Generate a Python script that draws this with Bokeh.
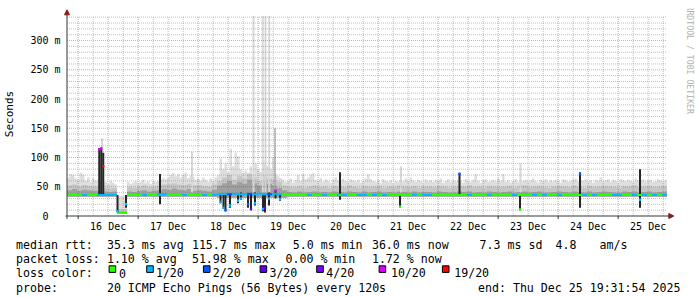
import numpy as np
from datetime import datetime, timedelta
from bokeh.plotting import figure
from bokeh.layouts import column
from bokeh.models import Range1d, FixedTicker, Arrow, NormalHead, Label, Plot
from bokeh.core.properties import value
from bokeh.embed import file_html
from bokeh.resources import INLINE

MONO = "DejaVu Sans Mono"

# ---------------- time frame ----------------
END = datetime(2025, 12, 25, 19, 31, 54)
SPAN_H = 240
START = END - timedelta(hours=SPAN_H)
FIRST_MIDNIGHT = datetime(2025, 12, 16)
OFFSET = (START - FIRST_MIDNIGHT).total_seconds() / 3600.0  # hours of START relative to 16 Dec 00:00

day_labels = ["16 Dec", "17 Dec", "18 Dec", "19 Dec", "20 Dec",
              "21 Dec", "22 Dec", "23 Dec", "24 Dec", "25 Dec"]
y_ticks = [0, 50, 100, 150, 200, 250, 300]
y_tick_labels = ["0\u00a0\u00a0", "50 m", "100 m", "150 m", "200 m", "250 m", "300 m"]
Y_TOP = 342  # ms at top of graph area

# ---------------- smoke data (ms) ----------------
# highest ping per hour (240 hours from START)
hi_1h = [
    66, 72, 70, 64, 62, 74, 71, 60, 66, 58, 64, 60,
    62, 58, 56, 58, 55, 60, 57, 54,
    34, 34, 34, 34,
    58, 55, 57, 60, 56, 58, 62, 57, 59, 55, 60, 58,
    60, 62, 65, 63, 66, 70, 74, 68, 72, 66, 70, 74, 65, 69,
    67, 62, 64, 60, 66, 62, 58, 64, 60, 66,
    70, 98, 80, 90, 75, 115, 85, 108, 102, 80, 74, 78, 74, 85, 72, 90, 80, 75, 95, 88, 85, 80, 100, 72, 68, 65,
    62, 58, 60, 64, 57, 62, 70, 60, 72, 63, 66, 71,
    73, 62, 60, 65, 58, 63, 60, 57, 62, 66, 61, 58,
    64, 60, 58, 63, 61, 59, 62, 57, 60, 64, 72, 63,
    60, 58, 62, 57, 63, 60, 58, 61, 56, 60, 58, 62,
    59, 64, 60, 66, 61, 58, 62, 60, 57, 63, 59, 61,
    58, 62, 60, 64, 57, 60, 63, 58, 61, 59, 62, 60,
    57, 63, 60, 58, 62, 72, 60, 57, 61, 63, 58, 60,
    62, 59, 64, 60, 72, 58, 61, 57, 60, 63, 58, 56,
    60, 62, 58, 61, 64, 59, 57, 62, 60, 63, 58, 61,
    59, 62, 60, 57, 63, 61, 58, 60, 62, 64, 59, 61,
    60, 63, 58, 61, 57, 62, 60, 66, 59, 61, 63, 58,
    62, 60, 57, 63, 61, 59, 62, 60, 58, 64, 61, 60,
    63, 59, 61, 62, 58, 60, 63, 61, 59, 62,
]
# per 2-hour bin (120 bins)
mid_2h = [
    52, 54, 50, 53, 51, 50, 50, 48, 47, 48,
    12, 12, 49, 48, 50, 52, 49, 50, 52, 54,
    55, 56, 54, 53, 55, 52, 53, 51, 50, 54,
    60, 66, 70, 62, 68, 64, 72, 66, 60, 70,
    64, 62, 58, 52, 50, 49, 51, 48, 50, 52,
    49, 50, 48, 51, 50, 49, 52, 50, 48, 51,
    49, 50, 51, 48, 50, 49, 52, 50, 49, 51,
    48, 50, 50, 49, 51, 50, 48, 49, 51, 50,
    52, 49, 50, 48, 51, 50, 49, 50, 51, 48,
    50, 52, 49, 50, 51, 49, 48, 50, 51, 50,
    49, 52, 50, 48, 51, 49, 50, 51, 50, 49,
    48, 51, 50, 52, 49, 50, 51, 49, 50, 51,
]
inner_2h = [
    44, 46, 43, 45, 44, 43, 43, 42, 41, 42,
    7, 7, 42, 41, 43, 44, 42, 43, 44, 46,
    45, 47, 45, 44, 46, 43, 44, 43, 42, 45,
    52, 56, 60, 54, 58, 55, 62, 56, 52, 58,
    55, 52, 48, 44, 41, 40, 42, 40, 41, 42,
    40, 41, 40, 42, 41, 40, 42, 41, 40, 42,
    40, 41, 42, 40, 41, 40, 42, 41, 40, 42,
    40, 41, 41, 40, 42, 41, 40, 40, 42, 41,
    42, 40, 41, 40, 42, 41, 40, 41, 42, 40,
    41, 42, 40, 41, 42, 40, 40, 41, 42, 41,
    40, 42, 41, 40, 42, 40, 41, 42, 41, 40,
    40, 42, 41, 42, 40, 41, 42, 40, 41, 42,
]
lo_2h = [
    33, 33, 33, 33, 33, 33, 33, 33, 33, 33,
    4, 4, 33, 33, 33, 33, 33, 33, 33, 33,
    33, 33, 33, 33, 33, 33, 33, 33, 33, 33,
    31, 31, 31, 31, 31, 31, 31, 31, 31, 31,
    31, 31, 31, 31, 33, 33, 33, 33, 33, 33,
    33, 33, 33, 33, 33, 33, 33, 33, 33, 33,
    33, 33, 33, 33, 33, 33, 33, 33, 33, 33,
    33, 33, 33, 33, 33, 33, 33, 33, 33, 33,
    33, 33, 33, 33, 33, 33, 33, 33, 33, 33,
    33, 33, 33, 33, 33, 33, 33, 33, 33, 33,
    33, 33, 33, 33, 33, 33, 33, 33, 33, 33,
    33, 33, 33, 33, 33, 33, 33, 33, 33, 33,
]
med_2h = [
    36, 36, 36, 36, 36, 36, 36, 36, 36, 36,
    6, 6, 36, 36, 36, 36, 36, 36, 37, 37,
    36, 36, 36, 36, 36, 36, 36, 36, 36, 36,
    37, 38, 37, 38, 37, 37, 38, 37, 38, 37,
    37, 38, 37, 36, 36, 36, 36, 36, 36, 36,
    36, 36, 36, 36, 36, 36, 36, 36, 36, 36,
    36, 36, 36, 36, 36, 36, 36, 36, 36, 36,
    36, 36, 36, 36, 36, 36, 36, 36, 36, 36,
    36, 36, 36, 36, 36, 36, 36, 36, 36, 36,
    36, 36, 36, 36, 36, 36, 36, 36, 36, 36,
    36, 36, 36, 36, 36, 36, 36, 36, 36, 36,
    36, 36, 36, 36, 36, 36, 36, 36, 36, 36,
]
loss_2h = [
    0, 0, 0, 1, 0, 0, 1, 1, 1, 1,
    0, 0, 0, 0, 0, 1, 0, 0, 1, 1,
    0, 0, 0, 1, 0, 0, 0, 1, 0, 1,
    1, 1, 2, 1, 1, 1, 2, 1, 1, 1,
    2, 1, 1, 0, 0, 0, 0, 0, 1, 0,
    0, 1, 0, 0, 1, 1, 0, 0, 1, 1,
    0, 1, 0, 1, 0, 0, 0, 0, 0, 1,
    0, 1, 1, 0, 0, 0, 0, 0, 0, 0,
    1, 0, 0, 0, 1, 0, 0, 0, 0, 1,
    0, 0, 0, 1, 0, 1, 0, 0, 1, 0,
    0, 0, 0, 1, 0, 1, 0, 0, 0, 1,
    1, 0, 0, 1, 0, 1, 0, 1, 0, 1,
]

# thin light smoke spikes (hours from START, top ms)
spike_t = [14.0, 50.0, 74.6, 78.3, 79.4, 80.9, 133.6, 181.4]
spike_hi = [133, 110, 342, 342, 342, 342, 85, 90]
dark_spike_t = [83.2]
dark_spike_hi = [150]

# dense-loss / outlier episodes (hours from START)
ev_t = [12.9, 13.7, 14.5, 20.2, 23.6, 37.2, 61.4, 62.6, 63.4, 65.2, 68.4, 69.6, 72.4,
        73.6, 75.2, 78.4, 79.2, 80.8, 83.4, 85.2, 109.2, 133.2, 157.0, 181.2, 205.2, 229.2]
ev_lo = [36, 36, 36, 7, 14, 20, 22, 12, 8, 14, 22, 28, 14, 10, 18, 8, 6, 18, 30, 26,
         28, 15, 36, 10, 14, 14]
ev_hi = [116, 117, 108, 36, 36, 72, 38, 36, 36, 38, 38, 40, 38, 38, 40, 38, 38, 40, 44, 37,
         75, 37, 74, 36, 75, 80]
ev_med = [114, 115, 85, 8, 20, 36, 24, 14, 10, 18, 26, 30, 20, 12, 22, 12, 14, 30, 43, 29,
          36, 16, 72, 11, 72, 28]
ev_loss = [5, 5, 6, 1, 1, 1, 1, 1, 2, 1, 1, 1, 2, 3, 1, 1, 3, 1, 5, 1, 0, 0, 2, 0, 2, 1]

loss_colors = ["#26ff00", "#00b8ff", "#0059ff", "#5e00ff", "#7e00ff", "#dd00ff", "#ff0000"]
loss_labels = ["0", "1/20", "2/20", "3/20", "4/20", "10/20", "19/20"]

row_heads = ["median rtt:", "packet loss:", "loss color:", "probe:"]
stats_rtt = ["35.3 ms avg", "115.7 ms max", "5.0 ms min", "36.0 ms now", "7.3 ms sd", "4.8", "am/s"]
stats_loss = ["1.10 % avg", "51.98 % max", "0.00 % min", "1.72 % now"]
probe_line = ["20 ICMP Echo Pings (56 Bytes) every 120s", "end: Thu Dec 25 19:31:54 2025"]

assert len(hi_1h) == 240
for a in (mid_2h, inner_2h, lo_2h, med_2h, loss_2h):
    assert len(a) == 120

HAS_FRAME_ALIGN = "frame_align" in Plot.properties()

# ---------------- figure geometry ----------------
W = 697
GRAPH_H = 236
FRAME_L, FRAME_B, FRAME_T = 62, 219, 8
PX_PER_H = 2.5
PX_PER_MS = 200.0 / Y_TOP
FRAME_W, FRAME_H = W - FRAME_L, FRAME_B - FRAME_T
x_start = OFFSET - 4.5 / PX_PER_H
x_end = x_start + FRAME_W / PX_PER_H
y_start = -3.5 / PX_PER_MS
y_end = y_start + FRAME_H / PX_PER_MS

AXIS = "#2c3a36"
ARROW = "#8b1a1a"

p = figure(width=W, height=GRAPH_H, x_range=Range1d(x_start, x_end), y_range=Range1d(y_start, y_end),
           min_border_left=FRAME_L, min_border_right=0, min_border_top=FRAME_T,
           min_border_bottom=GRAPH_H - FRAME_B,
           toolbar_location=None, output_backend="svg", outline_line_color=None,
           background_fill_color="white", border_fill_color="white")
p.grid.visible = False
if HAS_FRAME_ALIGN:
    p.frame_align = False

# ---- smoke ----
edges = OFFSET + np.arange(SPAN_H + 1, dtype=float)
xs = np.repeat(edges, 2)[1:-1]
def step(v):
    return np.repeat(np.asarray(v, dtype=float), 2)

hi = np.asarray(hi_1h, dtype=float)
lo = np.repeat(np.asarray(lo_2h, dtype=float), 2)
mid = np.minimum(np.repeat(np.asarray(mid_2h, dtype=float), 2), hi)
inner = np.minimum(np.repeat(np.asarray(inner_2h, dtype=float), 2), mid)
p.varea(x=xs, y1=step(lo), y2=step(hi), fill_color="#dedede")
p.varea(x=xs, y1=step(lo), y2=step(mid), fill_color="#c6c6c6")
p.varea(x=xs, y1=step(lo), y2=step(inner), fill_color="#a0a0a0")

st = OFFSET + np.asarray(spike_t)
p.quad(left=st - 0.4, right=st + 0.4, bottom=40, top=spike_hi, fill_color="#d8d8d8", line_color=None)
dst = OFFSET + np.asarray(dark_spike_t)
p.quad(left=dst - 0.3, right=dst + 0.3, bottom=40, top=dark_spike_hi, fill_color="#a8a8a8", line_color=None)

# ---- grid ----
six = [6 * k for k in range(-1, 41) if OFFSET <= 6 * k <= OFFSET + SPAN_H]
v_major = [t for t in six if t % 24 == 0]
v_minor = [t for t in six if t % 24 != 0]
h_all = list(range(10, Y_TOP, 10))
h_major = [v for v in h_all if v % 50 == 0]
h_minor = [v for v in h_all if v % 50 != 0]
g_minor = dict(line_color="#8c8c8c", line_alpha=0.55, line_dash="1 1", line_width=1)
g_major = dict(line_color="#c82020", line_alpha=0.42, line_dash="1 1", line_width=1)
p.segment(x0=v_minor, y0=0, x1=v_minor, y1=Y_TOP, **g_minor)
p.segment(x0=OFFSET, y0=h_minor, x1=OFFSET + SPAN_H, y1=h_minor, **g_minor)
p.segment(x0=v_major, y0=0, x1=v_major, y1=Y_TOP, **g_major)
p.segment(x0=OFFSET, y0=h_major, x1=OFFSET + SPAN_H, y1=h_major, **g_major)

# ---- episodes ----
et = OFFSET + np.asarray(ev_t)
p.quad(left=et - 0.4, right=et + 0.4, bottom=ev_lo, top=ev_hi, fill_color="#262626", line_color=None)

# ---- median line coloured by loss ----
b0 = OFFSET + 2.0 * np.arange(120)
p.segment(x0=b0, y0=med_2h, x1=b0 + 2.0, y1=med_2h,
          line_color=[loss_colors[i] for i in loss_2h], line_width=2)
p.segment(x0=et - 0.45, y0=ev_med, x1=et + 0.45, y1=ev_med,
          line_color=[loss_colors[i] for i in ev_loss], line_width=2.5)

# ---- axes lines with arrows ----
p.add_layout(Arrow(x_start=OFFSET, y_start=-3.0 / PX_PER_MS, x_end=OFFSET, y_end=(215.5 - 9.3) / PX_PER_MS,
                   line_color=AXIS, line_width=1,
                   end=NormalHead(size=5, fill_color=ARROW, line_color=ARROW, line_width=1)))
p.add_layout(Arrow(x_start=OFFSET - 0.6, y_start=0, x_end=OFFSET + (673.3 - 66.5) / PX_PER_H, y_end=0,
                   line_color=AXIS, line_width=1,
                   end=NormalHead(size=5, fill_color=ARROW, line_color=ARROW, line_width=1)))
p.segment(x0=v_major, y0=0, x1=v_major, y1=-3.0 / PX_PER_MS, line_color=AXIS, line_width=1)

# ---- tick labels ----
noons = [12 + 24 * k for k in range(len(day_labels))]
p.xaxis.ticker = FixedTicker(ticks=noons)
p.xaxis.major_label_overrides = {n: lab for n, lab in zip(noons, day_labels)}
p.yaxis.ticker = FixedTicker(ticks=y_ticks)
p.yaxis.major_label_overrides = {t: lab for t, lab in zip(y_ticks, y_tick_labels)}
for ax in (p.xaxis[0], p.yaxis[0]):
    ax.axis_line_color = None
    ax.major_tick_out = 0
    ax.major_tick_in = 0
    ax.minor_tick_out = 0
    ax.minor_tick_in = 0
    ax.major_label_text_font = MONO
    ax.major_label_text_font_size = "10px"
    ax.major_label_text_color = "black"
p.xaxis.major_label_standoff = 1
p.yaxis.major_label_standoff = 2
p.yaxis.axis_label = "Seconds"
p.yaxis.axis_label_text_font = MONO
p.yaxis.axis_label_text_font_size = "11px"
p.yaxis.axis_label_text_font_style = "normal"
p.yaxis.axis_label_text_color = "black"
p.yaxis.axis_label_standoff = 11

p.add_layout(Label(x=x_start + (689 - FRAME_L) / PX_PER_H, y=y_start + (FRAME_B - 5) / PX_PER_MS,
                   text="RRDTOOL / TOBI OETIKER", angle=-np.pi / 2,
                   text_font=MONO, text_font_size="8.2px", text_color="#b0b0b0",
                   text_align="left", text_baseline="middle"))

# ---------------- legend block (pixel-like coordinates, y downward) ----------------
LEG_H = 297 - GRAPH_H
base = [8.0, 22.4, 36.9, 51.3]          # text baselines inside the legend strip
x_head = 15.5
x_rtt = [106.4, 191.4, 292.3, 371.4, 479.1, 555.0, 599.0]
x_loss = [106.4, 191.4, 285.0, 371.4]
x_probe = [106.4, 477.5]
sq_left = [108.6, 146.2, 202.9, 259.6, 316.2, 378.6, 441.9]
lab_x = [118.5, 155.4, 212.2, 268.9, 325.8, 390.4, 453.7]

leg_left = 0 if HAS_FRAME_ALIGN else FRAME_L
leg = figure(width=W, height=LEG_H, x_range=Range1d(leg_left, W), y_range=Range1d(LEG_H, 0),
             x_axis_type=None, y_axis_type=None if HAS_FRAME_ALIGN else "linear",
             toolbar_location=None, output_backend="svg",
             min_border_left=leg_left, min_border_right=0, min_border_top=0, min_border_bottom=0,
             outline_line_color=None, background_fill_color="white", border_fill_color="white")
leg.grid.visible = False
if HAS_FRAME_ALIGN:
    leg.frame_align = False

tx, ty, tt = [], [], []
if HAS_FRAME_ALIGN:
    for b, s in zip(base, row_heads):
        tx.append(x_head); ty.append(b); tt.append(s)
else:
    # first column drawn as left-axis labels of the strip
    ax = leg.yaxis[0]
    heads = [s + "\u00a0" * (12 - len(s)) for s in row_heads]
    ticks = [b - 4.0 for b in base]
    ax.ticker = FixedTicker(ticks=ticks)
    ax.major_label_overrides = {t: s for t, s in zip(ticks, heads)}
    ax.axis_line_color = None
    ax.major_tick_out = 0
    ax.major_tick_in = 0
    ax.minor_tick_out = 0
    ax.minor_tick_in = 0
    ax.major_label_text_font = MONO
    ax.major_label_text_font_size = "11.6px"
    ax.major_label_text_color = "black"
    ax.major_label_standoff = int(round(FRAME_L - (x_head + 12 * 6.985)))
for xx, s in zip(x_rtt, stats_rtt):
    tx.append(xx); ty.append(base[0]); tt.append(s)
for xx, s in zip(x_loss, stats_loss):
    tx.append(xx); ty.append(base[1]); tt.append(s)
for xx, s in zip(x_probe, probe_line):
    tx.append(xx); ty.append(base[3]); tt.append(s)
for xx, s in zip(lab_x, loss_labels):
    tx.append(xx); ty.append(base[2]); tt.append(s)
leg.text(x=tx, y=ty, text=tt, text_font=value(MONO), text_font_size="11.6px",
         text_color="black", text_baseline="alphabetic", text_align="left")
sq_c = [l + 3.3 for l in sq_left]
leg.rect(x=sq_c, y=base[2] - 4.3, width=6.6, height=6.6, fill_color=loss_colors,
         line_color="black", line_width=1)

layout = column(p, leg, spacing=0)
open("out.html", "w").write(file_html(layout, INLINE, "smokeping"))
